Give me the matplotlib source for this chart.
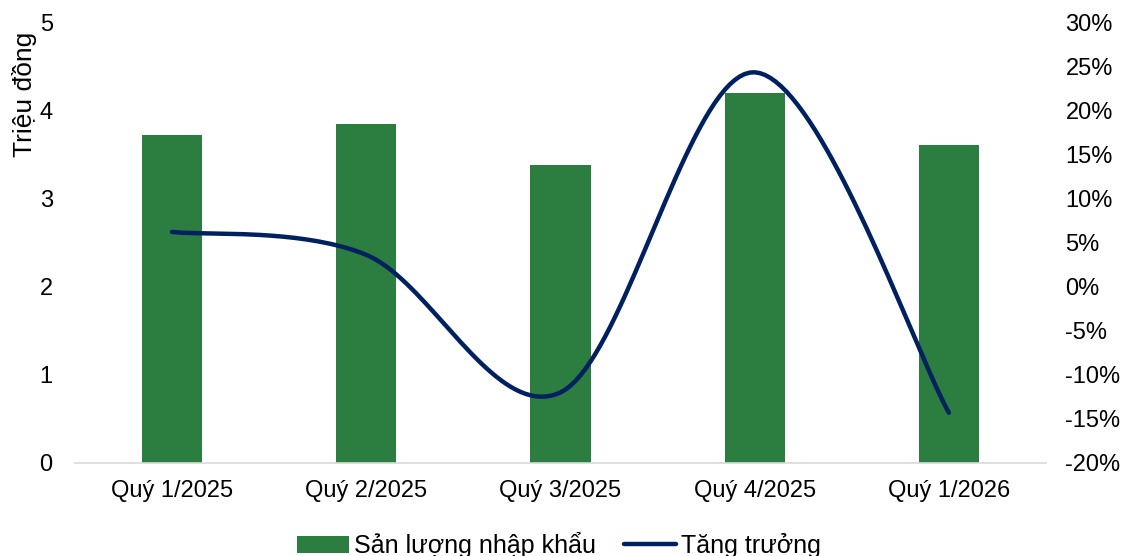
import numpy as np
import matplotlib.pyplot as plt
from matplotlib.ticker import FuncFormatter

plt.rcParams['font.family'] = ['Liberation Sans', 'DejaVu Sans']

quarters = ['Quý 1/2025', 'Quý 2/2025', 'Quý 3/2025', 'Quý 4/2025', 'Quý 1/2026']
san_luong = [3.72, 3.84, 3.38, 4.20, 3.60]          # triệu đồng
tang_truong = [6.2, 3.6, -12.0, 24.3, -14.3]         # %

BAR_COLOR = '#2B7D40'
LINE_COLOR = '#002060'
FS = 17


def smooth(xs, ys, n=40):
    # kiểu đường cong mượt như Excel (Catmull-Rom, tension 1/6)
    xs = np.asarray(xs, float)
    ys = np.asarray(ys, float)
    px = np.concatenate([[xs[0]], xs, [xs[-1]]])
    py = np.concatenate([[ys[0]], ys, [ys[-1]]])
    out_x, out_y = [], []
    t = np.linspace(0, 1, n)
    for i in range(1, len(px) - 2):
        p0 = np.array([px[i], py[i]])
        p3 = np.array([px[i + 1], py[i + 1]])
        c1 = p0 + (np.array([px[i + 1], py[i + 1]]) - np.array([px[i - 1], py[i - 1]])) / 6
        c2 = p3 - (np.array([px[i + 2], py[i + 2]]) - np.array([px[i], py[i]])) / 6
        b = ((1 - t) ** 3)[:, None] * p0 + (3 * (1 - t) ** 2 * t)[:, None] * c1 \
            + (3 * (1 - t) * t ** 2)[:, None] * c2 + (t ** 3)[:, None] * p3
        out_x.extend(b[:, 0])
        out_y.extend(b[:, 1])
    return np.array(out_x), np.array(out_y)


fig = plt.figure(figsize=(11.24, 5.56), dpi=100)
ax = fig.add_axes([0.0667, 0.1673, 0.8639, 0.7931])
x = np.arange(len(quarters))

bars = ax.bar(x, san_luong, width=0.31, color=BAR_COLOR, label='Sản lượng nhập khẩu', zorder=2)
ax.set_xlim(-0.5, len(quarters) - 0.5)
ax.set_ylim(0, 5)
ax.set_yticks(range(0, 6))
ax.set_xticks(x)
ax.set_xticklabels(quarters)

for s in ['top', 'right', 'left']:
    ax.spines[s].set_visible(False)
ax.spines['bottom'].set_color('#D9D9D9')
ax.spines['bottom'].set_linewidth(1.2)
ax.tick_params(axis='both', length=0, labelsize=FS, colors='#000000')
ax.tick_params(axis='y', pad=16)
ax.tick_params(axis='x', pad=12)

ax.text(-0.0515, 0.978, 'Triệu đồng', rotation=90, ha='center', va='top',
        fontsize=19, transform=ax.transAxes)

ax2 = ax.twinx()
sx, sy = smooth(x, tang_truong)
line, = ax2.plot(sx, sy, color=LINE_COLOR, lw=3.2, solid_capstyle='round',
                 label='Tăng trưởng', zorder=3)
ax2.set_ylim(-20, 30)
ax2.set_yticks(range(-20, 31, 5))
ax2.yaxis.set_major_formatter(FuncFormatter(lambda v, p: '%d%%' % v))
for s in ['top', 'right', 'left', 'bottom']:
    ax2.spines[s].set_visible(False)
ax2.tick_params(axis='y', length=0, labelsize=FS, pad=14)

fig.legend([bars, line], ['Sản lượng nhập khẩu', 'Tăng trưởng'], loc='center',
           bbox_to_anchor=(559 / 1124, 1 - 545 / 556), ncol=2, frameon=False, fontsize=18,
           handlelength=2.1, handletextpad=0.2, columnspacing=1.1)

fig.savefig('out.png', dpi=100)
